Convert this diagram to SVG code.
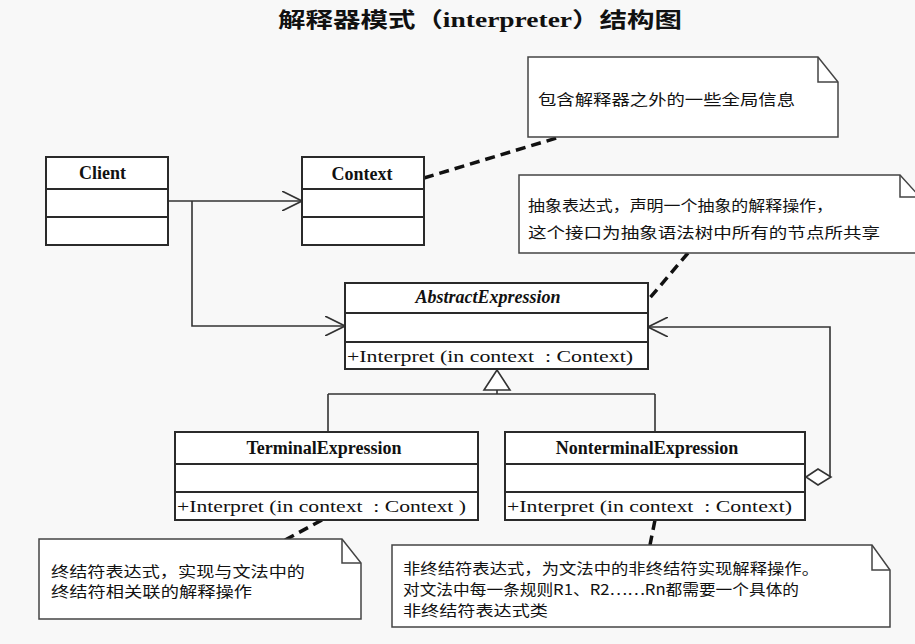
<svg xmlns="http://www.w3.org/2000/svg" width="915" height="644" viewBox="0 0 915 644">
<style>
.box{fill:#fff;stroke:#2a2a2a;stroke-width:2}
.div{stroke:#2a2a2a;stroke-width:2}
.name{font-family:"Liberation Serif","Times New Roman",serif;font-weight:bold;font-size:18px;fill:#111;text-anchor:middle}
.op{font-family:"Liberation Serif","Times New Roman",serif;font-size:17px;fill:#111;white-space:pre}
.note{fill:#fff;stroke:#444;stroke-width:1.5}
.fold{fill:none;stroke:#444;stroke-width:1.5}
.ntxt{font-family:"Noto Sans CJK SC","Noto Sans",sans-serif;font-size:15px;fill:#111}
.conn{fill:none;stroke:#333;stroke-width:1.6}
.dash{fill:none;stroke:#111;stroke-width:3.5;stroke-dasharray:10 6}
</style>
<defs>
<marker id="open" viewBox="0 0 20 20" refX="20" refY="10" markerWidth="20" markerHeight="20" markerUnits="userSpaceOnUse" orient="auto">
<path d="M0,0 L20,10 L0,20" fill="none" stroke="#333" stroke-width="1.6"/>
</marker>
</defs>
<rect x="0" y="0" width="915" height="644" fill="#f8f8f8"/>
<text x="278" y="27" textLength="404" lengthAdjust="spacingAndGlyphs" font-family="'Noto Sans CJK SC','Noto Sans',sans-serif" font-weight="bold" font-size="21" fill="#111">解释器模式（<tspan font-family="'Liberation Serif','Times New Roman',serif">interpreter</tspan>）结构图</text>

<g id="connectors">
<path class="conn" d="M168,201 H302" marker-end="url(#open)"/>
<path class="conn" d="M192,201 V326 H345" marker-end="url(#open)"/>
<path class="conn" d="M830,477 V327 H648" marker-end="url(#open)"/>
<polygon points="806,477 818,469 831,477 818,485" fill="#fff" stroke="#333" stroke-width="1.6"/>
<path class="conn" d="M497,390 V394 M328,394 H655 M328,394 V432 M655,394 V432"/>
<polygon points="497,370 484,390 510,390" fill="#fff" stroke="#333" stroke-width="1.6"/>
<path class="dash" d="M424,178 L560,137"/>
<path class="dash" d="M688,253 L649,299"/>
<path class="dash" d="M322,520 L285,540"/>
<path class="dash" d="M655,520 L650,545"/>
</g>

<g id="client">
<rect class="box" x="46" y="157" width="122" height="88"/>
<path class="div" d="M46,189 H168 M46,217 H168"/>
<text class="name" x="102.5" y="179">Client</text>
</g>

<g id="context">
<rect class="box" x="302" y="157" width="122" height="88"/>
<path class="div" d="M302,189 H424 M302,217 H424"/>
<text class="name" x="362" y="180">Context</text>
</g>

<g id="abstractexpression">
<rect class="box" x="345" y="283" width="303" height="86"/>
<path class="div" d="M345,313 H648 M345,342 H648"/>
<text class="name" x="488" y="303" font-style="italic">AbstractExpression</text>
<text class="op" x="347" y="362" xml:space="preserve" textLength="286" lengthAdjust="spacingAndGlyphs">+Interpret (in context  : Context)</text>
</g>

<g id="terminalexpression">
<rect class="box" x="175" y="432" width="303" height="88"/>
<path class="div" d="M175,464 H478 M175,492 H478"/>
<text class="name" x="324" y="454">TerminalExpression</text>
<text class="op" x="177" y="512" xml:space="preserve" textLength="289" lengthAdjust="spacingAndGlyphs">+Interpret (in context  : Context )</text>
</g>

<g id="nonterminalexpression">
<rect class="box" x="505" y="432" width="300" height="88"/>
<path class="div" d="M505,464 H805 M505,492 H805"/>
<text class="name" x="647" y="454">NonterminalExpression</text>
<text class="op" x="507" y="512" xml:space="preserve" textLength="285" lengthAdjust="spacingAndGlyphs">+Interpret (in context  : Context)</text>
</g>

<g id="note-context">
<path class="note" d="M528,57 H818 L838,82 V137 H528 Z"/>
<path class="fold" d="M818,57 V82 H838"/>
<text class="ntxt" x="538" y="105" textLength="257" lengthAdjust="spacingAndGlyphs">包含解释器之外的一些全局信息</text>
</g>

<g id="note-abstract">
<path class="note" d="M519,175 H900 L920,197 V253 H519 Z"/>
<path class="fold" d="M900,175 V197 H920"/>
<text class="ntxt" x="528" y="211" textLength="305" lengthAdjust="spacingAndGlyphs">抽象表达式，声明一个抽象的解释操作，</text>
<text class="ntxt" x="528" y="238" textLength="352" lengthAdjust="spacingAndGlyphs">这个接口为抽象语法树中所有的节点所共享</text>
</g>

<g id="note-terminal">
<path class="note" d="M39,539 H342 L361,563 V619 H39 Z"/>
<path class="fold" d="M342,539 V563 H361"/>
<text class="ntxt" x="51" y="577" textLength="254" lengthAdjust="spacingAndGlyphs">终结符表达式，实现与文法中的</text>
<text class="ntxt" x="51" y="597" textLength="201" lengthAdjust="spacingAndGlyphs">终结符相关联的解释操作</text>
</g>

<g id="note-nonterminal">
<path class="note" d="M392,545 H872 L890,570 V627 H392 Z"/>
<path class="fold" d="M872,545 V570 H890"/>
<text class="ntxt" x="403" y="574" font-size="13.5" textLength="416" lengthAdjust="spacingAndGlyphs">非终结符表达式，为文法中的非终结符实现解释操作。</text>
<text class="ntxt" x="403" y="595" font-size="13.5" textLength="396" lengthAdjust="spacingAndGlyphs">对文法中每一条规则R1、R2……Rn都需要一个具体的</text>
<text class="ntxt" x="403" y="616" font-size="13.5" textLength="145" lengthAdjust="spacingAndGlyphs">非终结符表达式类</text>
</g>
</svg>
